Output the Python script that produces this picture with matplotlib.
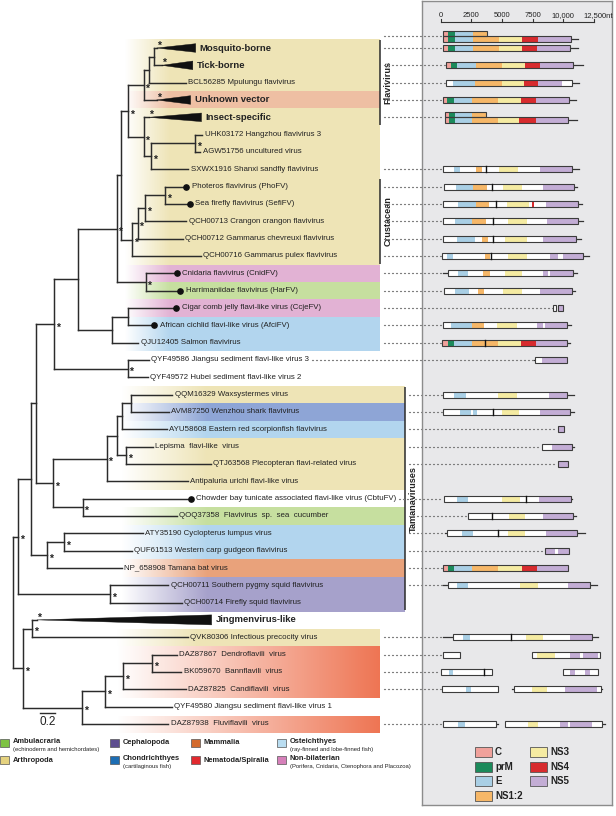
import numpy as np
import matplotlib
matplotlib.use("Agg")
import matplotlib.pyplot as plt
import matplotlib.transforms as mtransforms
from matplotlib.patches import Rectangle, Polygon
from matplotlib.collections import LineCollection
from matplotlib.colors import to_rgb

plt.rcParams["font.family"] = ["Liberation Sans", "DejaVu Sans"]

# ---------------- tree ----------------
# internal node: ([children], branch length, supported)
# tip: (label, branch length[, "dot"])   collapsed clade: (label, branch length, "clade", clade depth)
TREE = ([
    ([
        ([
            ([
                ([
                    ([
                        ([
                            ([
                                ([
                                    ([
                                        ([
                                            ("Mosquito-borne", 0.04, "clade", 0.54),
                                            ("Tick-borne", 0.11, "clade", 0.43),
                                        ], 0.07, False),
                                        ("BCL56285 Mpulungu flavivirus", 0.51),
                                    ], 0.07, False),
                                    ("Unknown vector", 0.18, "clade", 0.47),
                                ], 0.21, True),
                                ([
                                    ("Insect-specific", 0.07, "clade", 0.73),
                                    ([
                                        ([("UHK03172 Hangzhou flavivirus 3", 0.10),
                                          ("AGW51756 uncultured virus", 0.07)], 0.61, True),
                                        ("SXWX1916 Shanxi sandfly flavivirus", 0.52),
                                    ], 0.10, True),
                                ], 0.21, True),
                            ], 0.10, True),
                            ([
                                ([
                                    ([
                                        ([("Photeros flavivirus (PhoFV)", 0.29, "dot"),
                                          ("Sea firefly flavivirus (SefiFV)", 0.34, "dot")], 0.28, True),
                                        ("QCH00713 Crangon crangon flavivirus", 0.57),
                                    ], 0.10, True),
                                    ("QCH00712 Gammarus chevreuxi flavivirus", 0.62),
                                ], 0.08, True),
                                ("QCH00716 Gammarus pulex flavivirus", 0.95),
                            ], 0.15, True),
                        ], 0.06, False),
                        ([("Cnidaria flavivirus (CnidFV)", 0.43, "dot"),
                          ("Harrimaniidae flavivirus (HarFV)", 0.48, "dot")], 0.40, True),
                    ], 0.54, True),
                    ([
                        ([("Cigar comb jelly flavi-like virus (CcjeFV)", 0.66, "dot"),
                          ("African cichlid flavi-like virus (AfciFV)", 0.36, "dot")], 0.23, False),
                        ("QJU12405 Salmon flavivirus", 0.37),
                    ], 0.47, False),
                ], 0.32, False),
                ([("QYF49586 Jiangsu sediment flavi-like virus 3", 0.29),
                  ("QYF49572 Hubei sediment flavi-like virus 2", 0.28)], 1.01, True),
            ], 0.25, True),
            ([
                ([
                    ([
                        ([
                            ([("QQM16329 Waxsystermes virus", 0.57),
                              ("AVM87250 Wenzhou shark flavivirus", 0.52)], 0.12, False),
                            ("AYU58608 Eastern red scorpionfish flavivirus", 0.61),
                        ], 0.07, False),
                        ([("Lepisma  flavi-like  virus", 0.37),
                          ("QTJ63568 Plecopteran flavi-related virus", 1.17)], 0.12, True),
                    ], 0.15, False),
                    ("Antipaluria urichi flavi-like virus", 1.12),
                ], 0.74, True),
                ([("Chowder bay tunicate associated flavi-like virus (CbtuFV)", 1.49, "dot"),
                  ("QOQ37358  Flavivirus  sp.  sea  cucumber", 1.30)], 0.41, True),
            ], 0.23, True),
        ], 0.07, False),
        ([
            ([("ATY35190 Cyclopterus lumpus virus", 1.09),
              ("QUF61513 Western carp gudgeon flavivirus", 0.94)], 0.23, True),
            ("NP_658908 Tamana bat virus", 1.03),
        ], 0.22, True),
    ], 0.18, False),
    ([("QCH00711 Southern pygmy squid flavivirus", 0.80),
      ("QCH00714 Firefly squid flavivirus", 0.99)], 1.27, True),
], 0.07, True)

TREE = ([
    TREE,
    ([
        ([
            ("Jingmenvirus-like", 0.07, "clade", 2.41),
            ("QVK80306 Infectious precocity virus", 2.15),
        ], 0.12, True),
        ([
            ([
                ([
                    ([("DAZ87867  Dendroflavili  virus", 0.34),
                      ("BK059670  Bannflavili  virus", 0.40)], 0.40, True),
                    ("DAZ87825  Candiflavili  virus", 0.86),
                ], 0.25, True),
                ("QYF49580 Jiangsu sediment flavi-like virus 1", 0.92),
            ], 0.32, True),
            ("DAZ87938  Fluviflavili  virus", 1.19),
        ], 0.81, True),
    ], 0.14, True),
], 0.0, False)

# host of each row (top to bottom), used for the coloured bands
ROW_HOST = [
    "Arthropoda", "Arthropoda", "Arthropoda", "Unknown", "Arthropoda",
    "Arthropoda", "Arthropoda", "Arthropoda", "Arthropoda", "Arthropoda",
    "Arthropoda", "Arthropoda", "Arthropoda", "Non-bilaterian", "Ambulacraria",
    "Non-bilaterian", "Osteichthyes", "Osteichthyes", None, None,
    "Arthropoda", "Chondrichthyes", "Osteichthyes", "Arthropoda", "Arthropoda",
    "Arthropoda", None, "Ambulacraria", "Osteichthyes", "Osteichthyes",
    "Mammalia", "Cephalopoda", "Cephalopoda", None, "Arthropoda",
    "Nematoda/Spiralia", "Nematoda/Spiralia", "Nematoda/Spiralia", None, "Nematoda/Spiralia",
]
BAND_COLORS = {
    "Arthropoda": "#EEE4B6", "Unknown": "#EEBFA3", "Non-bilaterian": "#E2B2D4",
    "Ambulacraria": "#C6DF9F", "Osteichthyes": "#B2D5EE", "Chondrichthyes": "#8EA5D6",
    "Mammalia": "#E9A27B", "Cephalopoda": "#A6A1CB", "Nematoda/Spiralia": "#EE7452",
}

CLADE_BARS = [("Flavivirus", "Mosquito-borne", "Insect-specific"),
              ("Crustacean", "Photeros", "pulex"),
              ("Tamanaviruses", "Waxsystermes", "Firefly squid")]

HOST_NAMES = ["Ambulacraria", "Arthropoda", "Cephalopoda", "Chondrichthyes",
              "Mammalia", "Nematoda/Spiralia", "Osteichthyes", "Non-bilaterian"]
HOST_NOTES = ["(echinoderm and hemichordates)", "", "", "(cartilaginous fish)", "", "",
              "(ray-finned and lobe-finned fish)", "(Porifera, Cnidaria, Ctenophora and Placozoa)"]
HOST_COLORS = ["#7DC242", "#E5D27F", "#5D4E8F", "#1D6EB4",
               "#D36A2C", "#E2292E", "#B9DDF1", "#D680BA"]

GENE_NAMES = ["C", "prM", "E", "NS1:2", "NS3", "NS4", "NS5"]
GENE_COLORS = ["#F0A19B", "#1B8A5B", "#A9CFE5", "#F6B768", "#F5EBA2", "#D72B2E", "#C3ADD5"]

# ---------------- genome maps (nt) ----------------
# lane 0: single bar, -1 / +1: upper / lower bar of a stacked pair
ORFS = [
    ("Mosquito-borne#2", -1, 160, 3750), ("Mosquito-borne#2", 1, 160, 10600),
    ("Mosquito-borne", 0, 210, 10540), ("Tick-borne", 0, 400, 10760),
    ("Mpulungu", 0, 400, 10730), ("Unknown vector", 0, 210, 10480),
    ("Insect-specific", -1, 330, 3670), ("Insect-specific", 1, 330, 10400),
    ("Shanxi", 0, 210, 10680), ("Photeros", 0, 290, 10890),
    ("Sea firefly", 0, 210, 11170), ("Crangon", 0, 160, 11170),
    ("chevreuxi", 0, 210, 11000), ("pulex", 0, 130, 11570),
    ("Cnidaria", 0, 620, 10810), ("Harrimaniidae", 0, 270, 10680),
    ("Cigar", 0, 9180, 9400), ("Cigar", 0, 9590, 9990),
    ("African", 0, 160, 10270), ("Salmon", 0, 130, 10320),
    ("QYF49586", 0, 7710, 10320), ("Waxsystermes", 0, 160, 10320),
    ("Wenzhou", 0, 210, 10540), ("scorpionfish", 0, 9540, 10070),
    ("Lepisma", 0, 8230, 10680), ("Plecopteran", 0, 9540, 10400),
    ("Chowder", 0, 270, 10600), ("QOQ37358", 0, 2250, 10760),
    ("Cyclopterus", 0, 540, 11130), ("carp", 0, 8500, 10460),
    ("Tamana", 0, 210, 10400), ("pygmy", 0, 570, 12170),
    ("QVK80306", 0, 1030, 12310),
    ("Dendroflavili", 0, 210, 1570), ("Dendroflavili", 0, 7470, 12980),
    ("Bannflavili", 0, 20, 4160), ("Bannflavili", 0, 9990, 12850),
    ("Candiflavili", 0, 80, 4690), ("Candiflavili", 0, 5970, 13040),
    ("Fluviflavili", 0, 210, 4510), ("Fluviflavili", 0, 5240, 13120),
]

SEGMENTS = [
    ("Mosquito-borne#2", -1, "C", 160, 600), ("Mosquito-borne#2", -1, "prM", 600, 1165),
    ("Mosquito-borne#2", -1, "E", 1165, 2650), ("Mosquito-borne#2", -1, "NS1:2", 2650, 3750),
    ("Mosquito-borne#2", 1, "C", 160, 600), ("Mosquito-borne#2", 1, "prM", 600, 1165),
    ("Mosquito-borne#2", 1, "E", 1165, 2650), ("Mosquito-borne#2", 1, "NS1:2", 2650, 4780),
    ("Mosquito-borne#2", 1, "NS3", 4780, 6650), ("Mosquito-borne#2", 1, "NS4", 6650, 7900),
    ("Mosquito-borne#2", 1, "NS5", 7900, 10600),
    ("Mosquito-borne", 0, "C", 210, 620), ("Mosquito-borne", 0, "prM", 620, 1165),
    ("Mosquito-borne", 0, "E", 1165, 2650), ("Mosquito-borne", 0, "NS1:2", 2650, 4780),
    ("Mosquito-borne", 0, "NS3", 4780, 6650), ("Mosquito-borne", 0, "NS4", 6650, 7880),
    ("Mosquito-borne", 0, "NS5", 7880, 10540),
    ("Tick-borne", 0, "C", 400, 815), ("Tick-borne", 0, "prM", 815, 1360),
    ("Tick-borne", 0, "E", 1360, 2850), ("Tick-borne", 0, "NS1:2", 2850, 5000),
    ("Tick-borne", 0, "NS3", 5000, 6870), ("Tick-borne", 0, "NS4", 6870, 8090),
    ("Tick-borne", 0, "NS5", 8090, 10760),
    ("Mpulungu", 0, "E", 1030, 2800), ("Mpulungu", 0, "NS1:2", 2800, 4970),
    ("Mpulungu", 0, "NS3", 4970, 6790), ("Mpulungu", 0, "NS4", 6790, 7960),
    ("Mpulungu", 0, "NS5", 7960, 9860),
    ("Unknown vector", 0, "C", 210, 540), ("Unknown vector", 0, "prM", 540, 1085),
    ("Unknown vector", 0, "E", 1085, 2530), ("Unknown vector", 0, "NS1:2", 2530, 4690),
    ("Unknown vector", 0, "NS3", 4690, 6540), ("Unknown vector", 0, "NS4", 6540, 7770),
    ("Unknown vector", 0, "NS5", 7770, 10480),
    ("Insect-specific", -1, "C", 330, 700), ("Insect-specific", -1, "prM", 700, 1165),
    ("Insect-specific", -1, "E", 1165, 2530), ("Insect-specific", -1, "NS1:2", 2530, 3670),
    ("Insect-specific", 1, "C", 330, 700), ("Insect-specific", 1, "prM", 700, 1165),
    ("Insect-specific", 1, "E", 1165, 2530), ("Insect-specific", 1, "NS1:2", 2530, 4690),
    ("Insect-specific", 1, "NS3", 4690, 6400), ("Insect-specific", 1, "NS4", 6400, 7770),
    ("Insect-specific", 1, "NS5", 7770, 10400),
    ("Shanxi", 0, "E", 1110, 1570), ("Shanxi", 0, "NS1:2", 2850, 3340),
    ("Shanxi", 0, "NS3", 4780, 6320), ("Shanxi", 0, "NS5", 8090, 10680),
    ("Photeros", 0, "E", 1250, 2660), ("Photeros", 0, "NS1:2", 2660, 3750),
    ("Photeros", 0, "NS3", 5050, 6600), ("Photeros", 0, "NS5", 8360, 10890),
    ("Sea firefly", 0, "E", 1430, 2880), ("Sea firefly", 0, "NS1:2", 2880, 3940),
    ("Sea firefly", 0, "NS3", 5380, 7220), ("Sea firefly", 0, "NS4", 7420, 7630),
    ("Sea firefly", 0, "NS5", 8580, 11170),
    ("Crangon", 0, "E", 1165, 2530), ("Crangon", 0, "NS1:2", 2530, 3690),
    ("Crangon", 0, "NS3", 5510, 7060), ("Crangon", 0, "NS5", 8640, 11170),
    ("chevreuxi", 0, "E", 1360, 2800), ("chevreuxi", 0, "NS1:2", 3340, 3830),
    ("chevreuxi", 0, "NS3", 5240, 7060), ("chevreuxi", 0, "NS5", 8360, 11000),
    ("pulex", 0, "E", 490, 1030), ("pulex", 0, "NS1:2", 3610, 4020),
    ("pulex", 0, "NS3", 5510, 7060), ("pulex", 0, "NS5", 8910, 9590),
    ("pulex", 0, "NS5", 9940, 11570),
    ("Cnidaria", 0, "E", 1430, 2250), ("Cnidaria", 0, "NS1:2", 3470, 4020),
    ("Cnidaria", 0, "NS3", 5240, 6600), ("Cnidaria", 0, "NS5", 8310, 8720),
    ("Cnidaria", 0, "NS5", 8910, 10810),
    ("Harrimaniidae", 0, "E", 1165, 2310), ("Harrimaniidae", 0, "NS1:2", 3060, 3530),
    ("Harrimaniidae", 0, "NS3", 5100, 6600), ("Harrimaniidae", 0, "NS5", 8090, 10680),
    ("Cigar", 0, "NS5", 9590, 9990),
    ("African", 0, "E", 815, 2530), ("African", 0, "NS1:2", 2530, 3530),
    ("African", 0, "NS3", 4560, 6190), ("African", 0, "NS5", 7870, 8360),
    ("African", 0, "NS5", 8500, 10270),
    ("Salmon", 0, "C", 130, 570), ("Salmon", 0, "prM", 570, 1110),
    ("Salmon", 0, "E", 1110, 2575), ("Salmon", 0, "NS1:2", 2575, 4690),
    ("Salmon", 0, "NS3", 4690, 6520), ("Salmon", 0, "NS4", 6520, 7770),
    ("Salmon", 0, "NS5", 7770, 10320),
    ("QYF49586", 0, "NS5", 8230, 10320),
    ("Waxsystermes", 0, "E", 1110, 2040), ("Waxsystermes", 0, "NS3", 4650, 6190),
    ("Waxsystermes", 0, "NS5", 8850, 10320),
    ("Wenzhou", 0, "E", 1570, 2450), ("Wenzhou", 0, "E", 2660, 2930),
    ("Wenzhou", 0, "NS3", 4970, 6410), ("Wenzhou", 0, "NS5", 8090, 10540),
    ("scorpionfish", 0, "NS5", 9540, 10070),
    ("Lepisma", 0, "NS5", 9050, 10680),
    ("Plecopteran", 0, "NS5", 9540, 10400),
    ("Chowder", 0, "E", 1360, 2250), ("Chowder", 0, "NS3", 4970, 6460),
    ("Chowder", 0, "NS5", 8040, 10600),
    ("QOQ37358", 0, "NS3", 5570, 6870), ("QOQ37358", 0, "NS5", 8360, 10760),
    ("Cyclopterus", 0, "E", 1710, 2660), ("Cyclopterus", 0, "NS3", 5510, 6870),
    ("Cyclopterus", 0, "NS5", 8580, 11130),
    ("carp", 0, "NS5", 8500, 9320), ("carp", 0, "NS5", 9590, 10460),
    ("Tamana", 0, "C", 210, 570), ("Tamana", 0, "prM", 570, 1110),
    ("Tamana", 0, "E", 1110, 2575), ("Tamana", 0, "NS1:2", 2575, 4690),
    ("Tamana", 0, "NS3", 4690, 6600), ("Tamana", 0, "NS4", 6600, 7870),
    ("Tamana", 0, "NS5", 7870, 10400),
    ("pygmy", 0, "E", 1300, 2200), ("pygmy", 0, "NS3", 6460, 7910),
    ("pygmy", 0, "NS5", 10400, 12170),
    ("QVK80306", 0, "E", 1840, 2390), ("QVK80306", 0, "NS3", 6950, 8360),
    ("QVK80306", 0, "NS5", 10540, 12310),
    ("Dendroflavili", 0, "NS3", 7820, 9320), ("Dendroflavili", 0, "NS5", 10540, 11350),
    ("Dendroflavili", 0, "NS5", 11570, 12850),
    ("Bannflavili", 0, "E", 700, 980), ("Bannflavili", 0, "NS5", 10540, 10950),
    ("Bannflavili", 0, "NS5", 11760, 12170),
    ("Candiflavili", 0, "E", 2060, 2450), ("Candiflavili", 0, "NS3", 7420, 8640),
    ("Candiflavili", 0, "NS5", 10130, 12710),
    ("Fluviflavili", 0, "E", 1430, 1980), ("Fluviflavili", 0, "NS3", 7140, 7960),
    ("Fluviflavili", 0, "NS5", 9720, 10400), ("Fluviflavili", 0, "NS5", 10540, 12310),
]

DIVIDERS = [
    ("Shanxi", 0, 3670), ("Photeros", 0, 4160), ("Sea firefly", 0, 4510),
    ("Crangon", 0, 4290), ("chevreuxi", 0, 4240), ("pulex", 0, 4075),
    ("Salmon", 0, 3590), ("Wenzhou", 0, 4290), ("Chowder", 0, 6950),
    ("QOQ37358", 0, 4210), ("Cyclopterus", 0, 4690), ("QVK80306", 0, 5700),
    ("Bannflavili", 0, 3530),
]

UTRS = [
    ("Mosquito-borne#2", 1, 10600, 11190), ("Mosquito-borne", 0, 10540, 11210),
    ("Tick-borne", 0, 10760, 11570), ("Mpulungu", 0, 10730, 11300),
    ("Unknown vector", 0, 10480, 11000), ("Insect-specific", 1, 10400, 11130),
    ("Shanxi", 0, 10680, 11270), ("Photeros", 0, 10890, 11080),
    ("Sea firefly", 0, 11170, 11490), ("Crangon", 0, 11170, 11620),
    ("chevreuxi", 0, 11000, 11430), ("pulex", 0, 11570, 12110),
    ("Cnidaria", 0, 160, 620), ("Cnidaria", 0, 10810, 11080),
    ("Harrimaniidae", 0, 10680, 10950), ("African", 0, 10270, 10600),
    ("Salmon", 0, 10320, 10540), ("QYF49586", 0, 7600, 7710),
    ("Waxsystermes", 0, 10320, 10860), ("Wenzhou", 0, 10540, 10860),
    ("Lepisma", 0, 10680, 10860), ("Chowder", 0, 10600, 10700),
    ("QOQ37358", 0, 10760, 11030), ("Cyclopterus", 0, 350, 540),
    ("Cyclopterus", 0, 11130, 11760), ("pygmy", 0, 160, 570),
    ("pygmy", 0, 12170, 12760), ("QVK80306", 0, 210, 1030),
    ("QVK80306", 0, 12310, 12850), ("Candiflavili", 0, 5790, 5970),
    ("Candiflavili", 0, 13040, 13120), ("Fluviflavili", 0, 4510, 4700),
    ("Fluviflavili", 0, 13120, 13390),
]

AXIS_TICKS = [0, 2500, 5000, 7500, 10000, 12500]
AXIS_LABELS = ["0", "2500", "5000", "7500", "10,000", "12,500nt"]

# ---------------- layout ----------------
W, H = 616, 816
ROOT_PX, UNIT_PX = 13.0, 72.5
ROW0_PX, ROW_PX = 48.0, 17.33
TREE_C = "#2b2b2b"
TXT_C = "#222222"

fig = plt.figure(figsize=(W / 100, H / 100), dpi=100)
fig.patch.set_facecolor("white")
PX = mtransforms.Affine2D().scale(1 / W, -1 / H).translate(0, 1) + fig.transFigure

ax = fig.add_axes([0, 0, 1, 1])
ax.axis("off")


def xpx(p):
    return (p - ROOT_PX) / UNIT_PX


def dxp(p):
    return p / UNIT_PX


def dyp(p):
    return p / ROW_PX


labels, tips, inner = [], [], []


def walk(node, xp):
    if isinstance(node[0], list):
        kids, bl, sup = node
        x = xp + bl
        ys = [walk(k, x) for k in kids]
        y = (ys[0] + ys[-1]) / 2
        inner.append((xp, x, y, ys[0], ys[-1], sup))
        return y
    kind = node[2] if len(node) > 2 else "leaf"
    depth = node[3] if len(node) > 3 else 0.0
    r = len(labels)
    labels.append(node[0])
    tips.append((node[0], xp, xp + node[1], r, kind, depth))
    return r


walk(TREE, 0.0)


def row_of(key):
    key = key.split("#")[0]
    return next(i for i, l in enumerate(labels) if key in l)


# coloured host bands fading in from the left
BAND_GROUPS = [(0, 17, 125, 380, 45), (20, 32, 122, 405, 85),
               (33, 34, 117, 380, 80), (35, 39, 117, 380, 263)]
IMG_X0, IMG_X1, NCOL = 110, 410, 900
xs = np.linspace(IMG_X0, IMG_X1, NCOL)
img = np.zeros((len(ROW_HOST), NCOL, 4))
for r, host in enumerate(ROW_HOST):
    if host is None:
        continue
    g = next(b for b in BAND_GROUPS if b[0] <= r <= b[1])
    a = np.clip((xs - g[2]) / g[4], 0, 1)
    a[xs > g[3]] = 0
    img[r, :, :3] = to_rgb(BAND_COLORS[host])
    img[r, :, 3] = a
ax.imshow(img, extent=(xpx(IMG_X0), xpx(IMG_X1), len(ROW_HOST) - 0.5, -0.5),
          aspect="auto", interpolation="nearest", zorder=0)

STAR_KW = dict(fontsize=7.5, fontweight="bold", color=TXT_C, ha="left",
               va="center", zorder=5)

# branches
hsegs, vsegs = [], []
for xp, x, y, y0, y1, sup in inner:
    if x > xp:
        hsegs.append([(xp, y), (x, y)])
    vsegs.append([(x, y0), (x, y1)])
    if sup:
        ax.text(x + dxp(1.8), y + dyp(3.6), "*", **STAR_KW)
for label, xp, x, r, kind, depth in tips:
    hsegs.append([(xp, r), (x, r)])
lc = LineCollection(hsegs + vsegs, colors=TREE_C, linewidths=1.05, zorder=3,
                    capstyle="projecting")
ax.add_collection(lc)

for label, xp, x, r, kind, depth in tips:
    if kind == "clade":
        hh = dyp(5.0 if depth > 1.5 else 4.3)
        ax.add_patch(Polygon([(x, r), (x + depth, r - hh), (x + depth, r + hh)],
                             closed=True, fc="#111111", ec="#111111", lw=0.3, zorder=3))
        ax.text(x, r - dyp(2.4), "*", **STAR_KW)
        ax.text(x + depth + dxp(4), r, label, fontsize=6.8, fontweight="bold",
                color=TXT_C, ha="left", va="center", zorder=5)
    else:
        if kind == "dot":
            ax.plot(x, r, "o", ms=3.8, color="#111111", zorder=4)
        gap = 5.5 if kind == "dot" else 2.5
        ax.text(x + dxp(gap), r, label, fontsize=5.7, color=TXT_C,
                ha="left", va="center", zorder=5)

# clade bars
bar_x = {"Flavivirus": 380, "Crustacean": 380, "Tamanaviruses": 405}
for name, first, last in CLADE_BARS:
    r0, r1 = row_of(first) - 0.45, row_of(last) + 0.45
    bx = xpx(bar_x[name])
    ax.plot([bx, bx], [r0, r1], color=TREE_C, lw=1.1, solid_capstyle="butt", zorder=4)
    ax.text(bx + dxp(8), (r0 + r1) / 2, name, rotation=90, fontsize=6.6,
            fontweight="bold", color=TXT_C, ha="center", va="center")

# scale bar
sb_y = (713 - ROW0_PX) / ROW_PX
ax.plot([xpx(40), xpx(40) + 0.2], [sb_y, sb_y], color=TREE_C, lw=1.0)
ax.text(xpx(40) + 0.1, sb_y + dyp(9), "0.2", fontsize=8.5, color=TXT_C,
        ha="center", va="center")

ax.set_xlim(-ROOT_PX / UNIT_PX, (W - ROOT_PX) / UNIT_PX)
ax.set_ylim((H - ROW0_PX) / ROW_PX, -ROW0_PX / ROW_PX)

# host legend
for i, (name, note, col) in enumerate(zip(HOST_NAMES, HOST_NOTES, HOST_COLORS)):
    cx = [0, 110, 191, 277][i // 2]
    cy = [743, 760][i % 2]
    fig.add_artist(Rectangle((cx, cy - 4), 9, 8, transform=PX, fc=col,
                             ec="#555555", lw=0.5))
    ny = cy - 1.5 if note else cy
    fig.text(cx + 13, ny, name, transform=PX, fontsize=5.4, fontweight="bold",
             color=TXT_C, ha="left", va="center")
    if note:
        fig.text(cx + 13, ny + 8, note, transform=PX, fontsize=4.2,
                 color=TXT_C, ha="left", va="center")

# ---------------- genome panel ----------------
NT0_PX = 440.7
NT_PER_PX = 12500 / (594.0 - NT0_PX)
P_L, P_R, P_T, P_B = 422, 612, 1, 805
ax2 = fig.add_axes([P_L / W, 1 - P_B / H, (P_R - P_L) / W, (P_B - P_T) / H])
ax2.set_facecolor("#E8E8EA")
ax2.set_xlim((P_L - NT0_PX) * NT_PER_PX, (P_R - NT0_PX) * NT_PER_PX)
ax2.set_ylim((P_B - ROW0_PX) / ROW_PX, (P_T - ROW0_PX) / ROW_PX)
ax2.set_xticks([])
ax2.set_yticks([])
for s in ax2.spines.values():
    s.set_color("#8C8C8C")
    s.set_linewidth(1.0)

# nt axis
ya = (21.7 - ROW0_PX) / ROW_PX
ax2.plot([AXIS_TICKS[0], AXIS_TICKS[-1]], [ya, ya], color="#333333", lw=0.8)
for t, lab in zip(AXIS_TICKS, AXIS_LABELS):
    ax2.plot([t, t], [ya, ya - dyp(2.5)], color="#333333", lw=0.8)
    if lab.endswith("nt"):
        ax2.text(t - 11 * NT_PER_PX, ya - dyp(6), lab, fontsize=5.5, color=TXT_C,
                 ha="left", va="center")
    else:
        ax2.text(t, ya - dyp(6), lab, fontsize=5.5, color=TXT_C,
                 ha="center", va="center")

GENOME_SHIFT = {"Mosquito-borne#2": -0.68}
BAR_H = dyp(6.0)
PAIR_H = dyp(5.6)


def lane_geom(key, lane):
    yc = row_of(key) + GENOME_SHIFT.get(key, 0.0)
    if lane == 0:
        return yc, BAR_H
    return yc + lane * PAIR_H / 2, PAIR_H


gene_col = dict(zip(GENE_NAMES, GENE_COLORS))
for key, lane, s, e in UTRS:
    yc, h = lane_geom(key, lane)
    ax2.plot([s, e], [yc, yc], color="#333333", lw=0.9, zorder=2)
for key, lane, s, e in ORFS:
    yc, h = lane_geom(key, lane)
    ax2.add_patch(Rectangle((s, yc - h / 2), e - s, h, fc="white", ec="none", zorder=3))
    ax2.add_patch(Rectangle((s, yc - h / 2), e - s, h, fc="none", ec="#3C3C3C",
                            lw=0.8, zorder=5))
for key, lane, gname, s, e in SEGMENTS:
    yc, h = lane_geom(key, lane)
    ax2.add_patch(Rectangle((s, yc - h / 2), e - s, h, fc=gene_col[gname], ec="none",
                            zorder=4))
for key, lane, p in DIVIDERS:
    yc, h = lane_geom(key, lane)
    ax2.plot([p, p], [yc - h / 2, yc + h / 2], color="#111111", lw=1.0, zorder=6)

# dotted leaders from the tree to each genome
fig.canvas.draw()
renderer = fig.canvas.get_renderer()
label_right = {}
for t in ax.texts:
    if t.get_text() in labels:
        label_right[t.get_text()] = t.get_window_extent(renderer).x1
starts = {}
for key, lane, s, e in ORFS + UTRS:
    starts[key] = min(starts.get(key, 1e9), s)
for key, s in starts.items():
    r = row_of(key)
    yc = r + GENOME_SHIFT.get(key, 0.0)
    if ROW_HOST[r] is None:
        x_px = label_right[labels[r]] + 3
    elif 20 <= r <= 32:
        x_px = 409
    else:
        x_px = 384
    x_nt = (x_px - NT0_PX) * NT_PER_PX
    ax2.plot([x_nt, s - 60], [yc, yc], color="#7A7A7A", lw=0.9,
             ls=(0, (0.8, 2.4)), dash_capstyle="round", clip_on=False, zorder=1)

# gene legend
for i, (gname, col) in enumerate(zip(GENE_NAMES, GENE_COLORS)):
    gx = 475 if i < 4 else 530
    gy = 752 + 14.6 * (i if i < 4 else i - 4)
    fig.add_artist(Rectangle((gx, gy - 5), 17, 10, transform=PX, fc=col,
                             ec="#555555", lw=0.6))
    fig.text(gx + 20, gy, gname, transform=PX, fontsize=7, fontweight="bold",
             color=TXT_C, ha="left", va="center")

fig.savefig("out.png", dpi=100)
